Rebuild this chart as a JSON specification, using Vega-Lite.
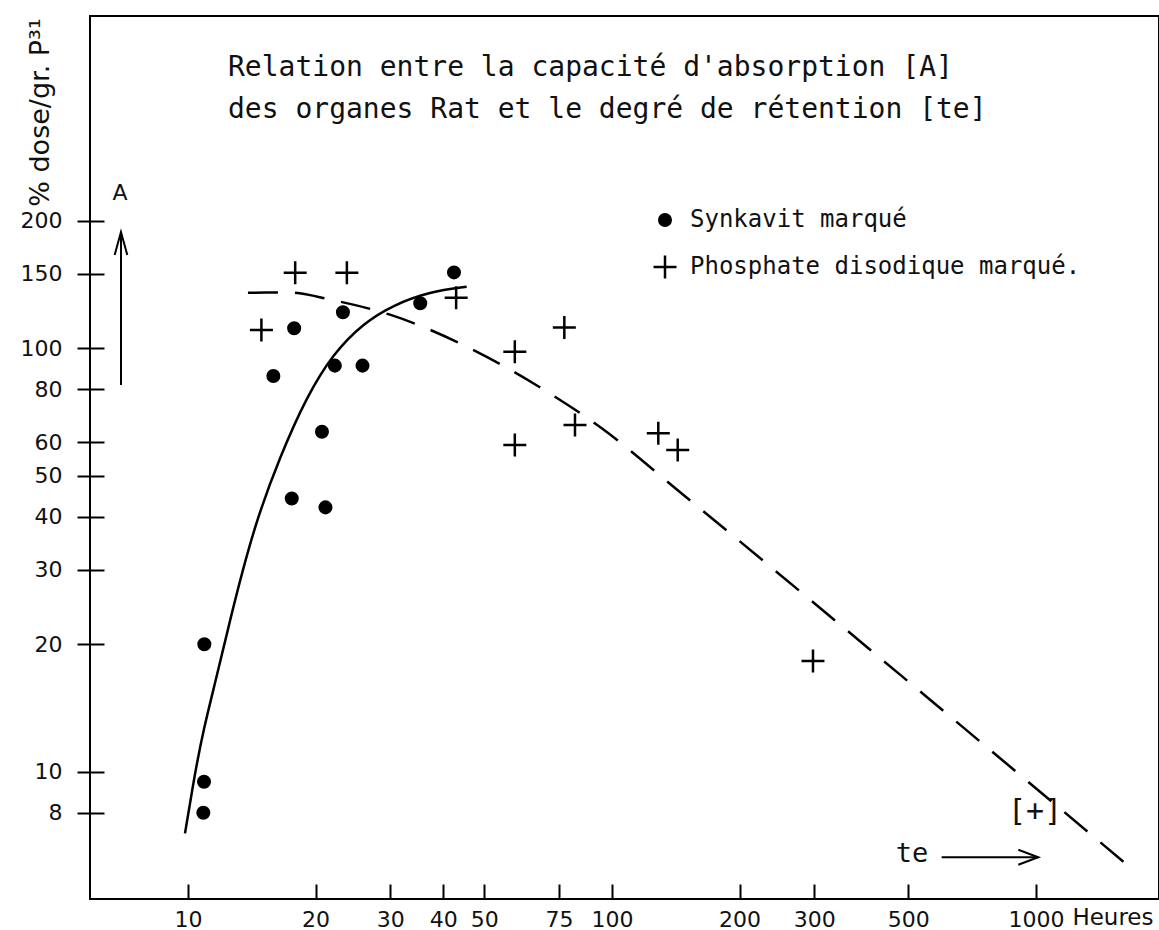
{
  "$schema": "https://vega.github.io/schema/vega-lite/v6.json",
  "width": 1069,
  "height": 883,
  "autosize": "none",
  "padding": {"left": 90, "top": 16, "right": 0, "bottom": 31},
  "background": "white",
  "title": {
    "text": ["Relation entre la capacité d'absorption [A]", "des organes Rat et le degré de rétention [te]"],
    "frame": "group",
    "anchor": "start",
    "orient": "top",
    "offset": 0,
    "dx": 138,
    "dy": 130,
    "font": "DejaVu Sans Mono",
    "fontSize": 28,
    "fontWeight": "normal",
    "lineHeight": 42,
    "baseline": "alphabetic",
    "color": "#111111"
  },
  "config": {
    "view": {"stroke": "black", "strokeWidth": 2},
    "font": "DejaVu Sans"
  },
  "datasets": {
    "points": [
      {"series": "Synkavit marqué", "x": 10.93, "y": 20.0},
      {"series": "Synkavit marqué", "x": 10.91, "y": 9.47},
      {"series": "Synkavit marqué", "x": 10.87, "y": 8.0},
      {"series": "Synkavit marqué", "x": 15.9, "y": 86.0},
      {"series": "Synkavit marqué", "x": 17.8, "y": 111.5},
      {"series": "Synkavit marqué", "x": 17.57, "y": 44.2},
      {"series": "Synkavit marqué", "x": 20.7, "y": 63.5},
      {"series": "Synkavit marqué", "x": 21.1, "y": 42.1},
      {"series": "Synkavit marqué", "x": 22.2, "y": 91.0},
      {"series": "Synkavit marqué", "x": 23.2, "y": 121.6},
      {"series": "Synkavit marqué", "x": 25.8, "y": 91.0},
      {"series": "Synkavit marqué", "x": 35.3, "y": 127.7},
      {"series": "Synkavit marqué", "x": 42.4, "y": 151.1},
      {"series": "Phosphate disodique marqué.", "x": 14.9, "y": 110.5},
      {"series": "Phosphate disodique marqué.", "x": 17.9, "y": 150.8},
      {"series": "Phosphate disodique marqué.", "x": 23.7, "y": 150.8},
      {"series": "Phosphate disodique marqué.", "x": 42.9, "y": 131.7},
      {"series": "Phosphate disodique marqué.", "x": 59.0, "y": 98.2},
      {"series": "Phosphate disodique marqué.", "x": 59.0, "y": 59.1},
      {"series": "Phosphate disodique marqué.", "x": 77.2, "y": 111.9},
      {"series": "Phosphate disodique marqué.", "x": 81.8, "y": 65.9},
      {"series": "Phosphate disodique marqué.", "x": 128.6, "y": 63.0},
      {"series": "Phosphate disodique marqué.", "x": 142.9, "y": 57.5},
      {"series": "Phosphate disodique marqué.", "x": 297.9, "y": 18.26}
    ],
    "solidCurve": [
      {"x": 9.84, "y": 7.15},
      {"x": 10.35, "y": 9.73},
      {"x": 10.87, "y": 12.55},
      {"x": 11.69, "y": 16.77},
      {"x": 12.56, "y": 22.82},
      {"x": 14.26, "y": 37.6},
      {"x": 16.48, "y": 55.5},
      {"x": 19.05, "y": 76.9},
      {"x": 22.02, "y": 97.3},
      {"x": 25.91, "y": 114.6},
      {"x": 30.5, "y": 126.6},
      {"x": 37.22, "y": 136.1},
      {"x": 45.43, "y": 139.8}
    ],
    "dashedCurve": [
      {"x": 13.85, "y": 135.3},
      {"x": 17.4, "y": 135.4},
      {"x": 21.82, "y": 130.1},
      {"x": 30.07, "y": 119.9},
      {"x": 45.43, "y": 100.9},
      {"x": 65.2, "y": 82.7},
      {"x": 94.6, "y": 64.7},
      {"x": 146.0, "y": 45.4},
      {"x": 477.9, "y": 16.95},
      {"x": 1696, "y": 5.86}
    ]
  },
  "encoding": {
    "x": {
      "field": "x",
      "type": "quantitative",
      "scale": {"type": "log", "domain": [5.874, 1950.4], "nice": false, "zero": false},
      "axis": {
        "values": [10, 20, 30, 40, 50, 75, 100, 200, 300, 500, 1000],
        "format": "d",
        "offset": -15,
        "tickSize": 15,
        "tickWidth": 2,
        "tickColor": "black",
        "domain": false,
        "grid": false,
        "labelFont": "DejaVu Sans",
        "labelFontSize": 22,
        "labelColor": "#111111",
        "labelPadding": 10,
        "labelBaseline": "top",
        "labelFlush": false,
        "labelOverlap": false,
        "title": "Heures",
        "titleX": 1063,
        "titleY": 40,
        "titleAlign": "right",
        "titleBaseline": "alphabetic",
        "titleFont": "DejaVu Sans",
        "titleFontSize": 23,
        "titleFontWeight": "normal",
        "titleColor": "#111111"
      }
    },
    "y": {
      "field": "y",
      "type": "quantitative",
      "scale": {"type": "log", "domain": [5.004, 609.3], "nice": false, "zero": false},
      "axis": {
        "values": [8, 10, 20, 30, 40, 50, 60, 80, 100, 150, 200],
        "format": "d",
        "offset": -14,
        "tickSize": 27,
        "tickWidth": 2,
        "tickColor": "black",
        "domain": false,
        "grid": false,
        "labelFont": "DejaVu Sans",
        "labelFontSize": 22,
        "labelColor": "#111111",
        "labelPadding": 15,
        "labelBaseline": "middle",
        "labelAlign": "right",
        "labelFlush": false,
        "labelOverlap": false,
        "title": "% dose/gr. P³¹",
        "titleX": -56,
        "titleY": 96,
        "titleAngle": -90,
        "titleAlign": "center",
        "titleBaseline": "alphabetic",
        "titleFont": "DejaVu Sans",
        "titleFontSize": 27,
        "titleFontWeight": "normal",
        "titleColor": "#111111"
      }
    }
  },
  "layer": [
    {
      "data": {"name": "solidCurve"},
      "mark": {"type": "line", "color": "black", "strokeWidth": 2.5, "interpolate": "basis"}
    },
    {
      "data": {"name": "dashedCurve"},
      "mark": {"type": "line", "color": "black", "strokeWidth": 2.5, "interpolate": "monotone", "strokeDash": [30, 17]}
    },
    {
      "data": {"name": "points"},
      "mark": {"type": "point", "filled": true, "strokeWidth": 2.5, "opacity": 1},
      "encoding": {
        "shape": {
          "field": "series", "type": "nominal",
          "scale": {"domain": ["Synkavit marqué", "Phosphate disodique marqué."], "range": ["circle", "M-1,0L1,0M0,-1L0,1"]},
          "legend": {"orient": "none", "legendX": 562, "legendY": 192, "title": null, "padding": 0, "labelFont": "DejaVu Sans Mono", "labelFontSize": 24, "labelColor": "#111111", "labelOffset": 12, "rowPadding": 18, "symbolStrokeWidth": 2.5, "labelLimit": 600}
        },
        "fill": {
          "field": "series", "type": "nominal",
          "scale": {"domain": ["Synkavit marqué", "Phosphate disodique marqué."], "range": ["black", "transparent"]},
          "legend": {"orient": "none", "legendX": 562, "legendY": 192, "title": null, "padding": 0, "labelFont": "DejaVu Sans Mono", "labelFontSize": 24, "labelColor": "#111111", "labelOffset": 12, "rowPadding": 18, "symbolStrokeWidth": 2.5, "labelLimit": 600}
        },
        "stroke": {
          "field": "series", "type": "nominal",
          "scale": {"domain": ["Synkavit marqué", "Phosphate disodique marqué."], "range": ["black", "black"]},
          "legend": {"orient": "none", "legendX": 562, "legendY": 192, "title": null, "padding": 0, "labelFont": "DejaVu Sans Mono", "labelFontSize": 24, "labelColor": "#111111", "labelOffset": 12, "rowPadding": 18, "symbolStrokeWidth": 2.5, "labelLimit": 600}
        },
        "size": {
          "field": "series", "type": "nominal",
          "scale": {"type": "point", "padding": 0, "domain": ["Synkavit marqué", "Phosphate disodique marqué."], "range": [133, 529]},
          "legend": {"orient": "none", "legendX": 562, "legendY": 192, "title": null, "padding": 0, "labelFont": "DejaVu Sans Mono", "labelFontSize": 24, "labelColor": "#111111", "labelOffset": 12, "rowPadding": 18, "symbolStrokeWidth": 2.5, "labelLimit": 600}
        }
      }
    },
    {
      "data": {"values": [{"x": 6.95, "y": 81.9, "y2": 188.0}]},
      "mark": {"type": "rule", "color": "black", "strokeWidth": 2},
      "encoding": {"y2": {"field": "y2"}}
    },
    {
      "data": {"values": [{"x": 6.95, "y": 176.8}]},
      "mark": {"type": "point", "shape": "M-0.55,1L0,-1L0.55,1", "size": 529, "filled": false, "stroke": "black", "strokeWidth": 2, "opacity": 1}
    },
    {
      "data": {"values": [{"x": 599.2, "x2": 1012.6, "y": 6.28}]},
      "mark": {"type": "rule", "color": "black", "strokeWidth": 2},
      "encoding": {"x2": {"field": "x2"}}
    },
    {
      "data": {"values": [{"x": 959.0, "y": 6.28}]},
      "mark": {"type": "point", "shape": "M-1,-0.75L1,0L-1,0.75", "size": 400, "filled": false, "stroke": "black", "strokeWidth": 2, "opacity": 1}
    },
    {
      "data": {"values": [{"label": "A", "x": 6.913, "y": 224.0}]},
      "mark": {"type": "text", "font": "DejaVu Sans", "fontSize": 22, "align": "center", "baseline": "alphabetic", "color": "#111111"},
      "encoding": {"text": {"field": "label"}}
    },
    {
      "data": {"values": [{"label": "te", "x": 510.1, "y": 6.12}]},
      "mark": {"type": "text", "font": "DejaVu Sans Mono", "fontSize": 27, "align": "center", "baseline": "alphabetic", "color": "#111111"},
      "encoding": {"text": {"field": "label"}}
    },
    {
      "data": {"values": [{"label": "[+]", "x": 994.6, "y": 8.03}]},
      "mark": {"type": "text", "font": "DejaVu Sans Mono", "fontSize": 30, "align": "center", "baseline": "middle", "color": "#111111"},
      "encoding": {"text": {"field": "label"}}
    }
  ]
}
